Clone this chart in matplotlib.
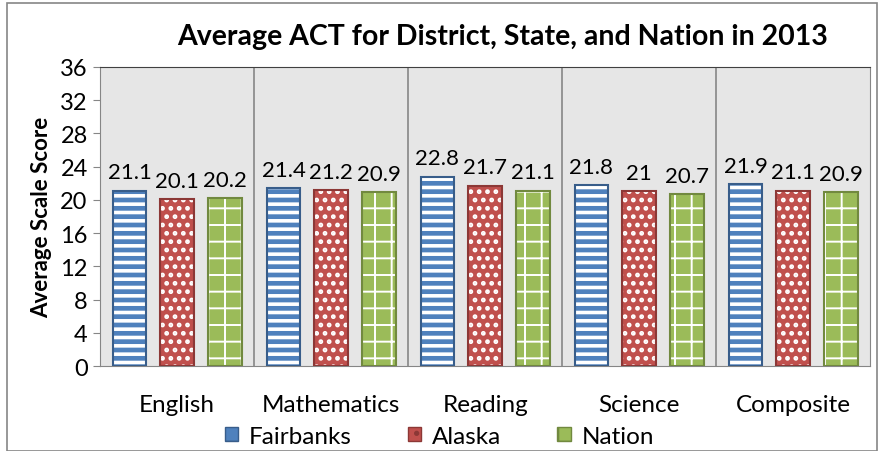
import matplotlib
matplotlib.use('Agg')
import matplotlib.pyplot as plt
import matplotlib.patches as mpatches
import numpy as np

categories = ["English", "Mathematics", "Reading", "Science", "Composite"]
fairbanks = [21.1, 21.4, 22.8, 21.8, 21.9]
alaska = [20.1, 21.2, 21.7, 21.0, 21.1]
nation = [20.2, 20.9, 21.1, 20.7, 20.9]
series_names = ["Fairbanks", "Alaska", "Nation"]
yticks = list(range(0, 37, 4))

plt.rcParams['font.family'] = ['Lato', 'DejaVu Sans']

fills = ['#4f81bd', '#c0504d', '#9bbb59']
edges = ['#385d8a', '#8c3836', '#71893f']
hatches = ['--', '..', '+']
hatch_lw = [2.6, 2.2, 1.4]

fig = plt.figure(figsize=(8.79, 4.52), dpi=100)
ax = fig.add_axes([0.114, 0.188, 0.876, 0.662])
ax.set_facecolor('#e6e6e6')

x = np.arange(len(categories))
offsets = [-0.31, 0.0, 0.31]
width = 0.22
for vals, off, fc, ec, h, lw in zip([fairbanks, alaska, nation], offsets, fills, edges, hatches, hatch_lw):
    plt.rcParams['hatch.linewidth'] = lw
    plt.rcParams['hatch.color'] = 'white'
    ax.bar(x + off, vals, width, color=fc, edgecolor='none', zorder=2)
    ax.bar(x + off, vals, width, facecolor='none', edgecolor='white', hatch=h, linewidth=0, zorder=3)
    ax.bar(x + off, vals, width, facecolor='none', edgecolor=ec, linewidth=1.5, zorder=4)
    for xi, v in zip(x + off, vals):
        ax.text(xi, v + 1.0, f"{v:g}", ha='center', va='bottom', fontsize=16, color='black')

ax.set_xlim(-0.5, len(categories) - 0.5)
ax.set_ylim(0, 36)
ax.set_yticks(yticks)
ax.tick_params(axis='y', labelsize=17, length=5, color='#868686', direction='out', pad=4)
ax.set_xticks(x)
ax.set_xticklabels(categories, fontsize=17.5)
ax.tick_params(axis='x', length=0, pad=20)
for b in np.arange(0.5, len(categories) - 0.5, 1):
    ax.axvline(b, color='#868686', linewidth=1.2, zorder=1)
for s in ['left', 'bottom', 'right', 'top']:
    ax.spines[s].set_color('#868686')
ax.spines['top'].set_color('#404040')

ax.set_ylabel("Average Scale Score", fontsize=16, fontweight='bold', labelpad=6)
fig.text(0.572, 0.918, "Average ACT for District, State, and Nation in 2013",
         ha='center', va='center', fontsize=20.5, fontweight='bold')

# legend
handles = []
for fc, ec, h, lw in zip(fills, edges, hatches, hatch_lw):
    handles.append(mpatches.Patch(facecolor=fc, edgecolor=ec, hatch=h[0], linewidth=1.0))
leg = fig.legend(handles, series_names, loc='center', bbox_to_anchor=(0.5, 0.033), ncol=3,
                 frameon=False, fontsize=17.5, handlelength=0.55, handleheight=0.55,
                 columnspacing=2.3, handletextpad=0.45, borderpad=0)

fig.add_artist(mpatches.Rectangle((0.008, 0.0), 0.99, 0.991, transform=fig.transFigure,
                                  fill=False, edgecolor='#868686', linewidth=1.2))

fig.savefig('out.png', dpi=100)
